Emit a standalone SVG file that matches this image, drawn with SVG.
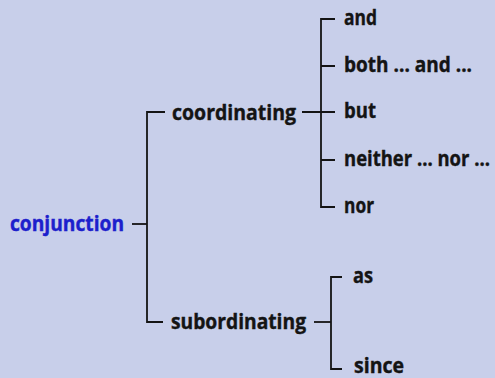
<svg xmlns="http://www.w3.org/2000/svg" width="495" height="378" viewBox="0 0 495 378">
<style>
text{font-family:"Open Sans","Noto Sans","DejaVu Sans",sans-serif;font-weight:bold;font-size:21px;fill:#141414;stroke:#141414;stroke-width:0.4}
.root{fill:#1c20cc;stroke:#1c20cc}
.c{stroke:#141414;stroke-width:1.8;fill:none}
</style>
<rect width="495" height="378" fill="#c8cfea"/>
<g id="connectors">
<path class="c" d="M132 224H147"/>
<path class="c" d="M165 112H147V322H163"/>
<path class="c" d="M302 112H335"/>
<path class="c" d="M335 19H321V207H335M321 66H335M321 160H335"/>
<path class="c" d="M314 322H331"/>
<path class="c" d="M342 277H331V369H342"/>
</g>
<g id="conjunction"><text class="root" x="10" y="231" textLength="114" lengthAdjust="spacingAndGlyphs">conjunction</text></g>
<g id="coordinating"><text x="172" y="120" textLength="124" lengthAdjust="spacingAndGlyphs">coordinating</text></g>
<g id="subordinating"><text x="171" y="329" textLength="135" lengthAdjust="spacingAndGlyphs">subordinating</text></g>
<g id="and"><text x="344" y="25" textLength="33" lengthAdjust="spacingAndGlyphs">and</text></g>
<g id="both"><text x="344" y="72" textLength="128" lengthAdjust="spacingAndGlyphs">both ... and ...</text></g>
<g id="but"><text x="344" y="118" textLength="32" lengthAdjust="spacingAndGlyphs">but</text></g>
<g id="neither"><text x="344" y="166" textLength="146" lengthAdjust="spacingAndGlyphs">neither ... nor ...</text></g>
<g id="nor"><text x="344" y="213" textLength="30" lengthAdjust="spacingAndGlyphs">nor</text></g>
<g id="as"><text x="353" y="283" textLength="20" lengthAdjust="spacingAndGlyphs">as</text></g>
<g id="since"><text x="354" y="373" textLength="50" lengthAdjust="spacingAndGlyphs">since</text></g>
</svg>
